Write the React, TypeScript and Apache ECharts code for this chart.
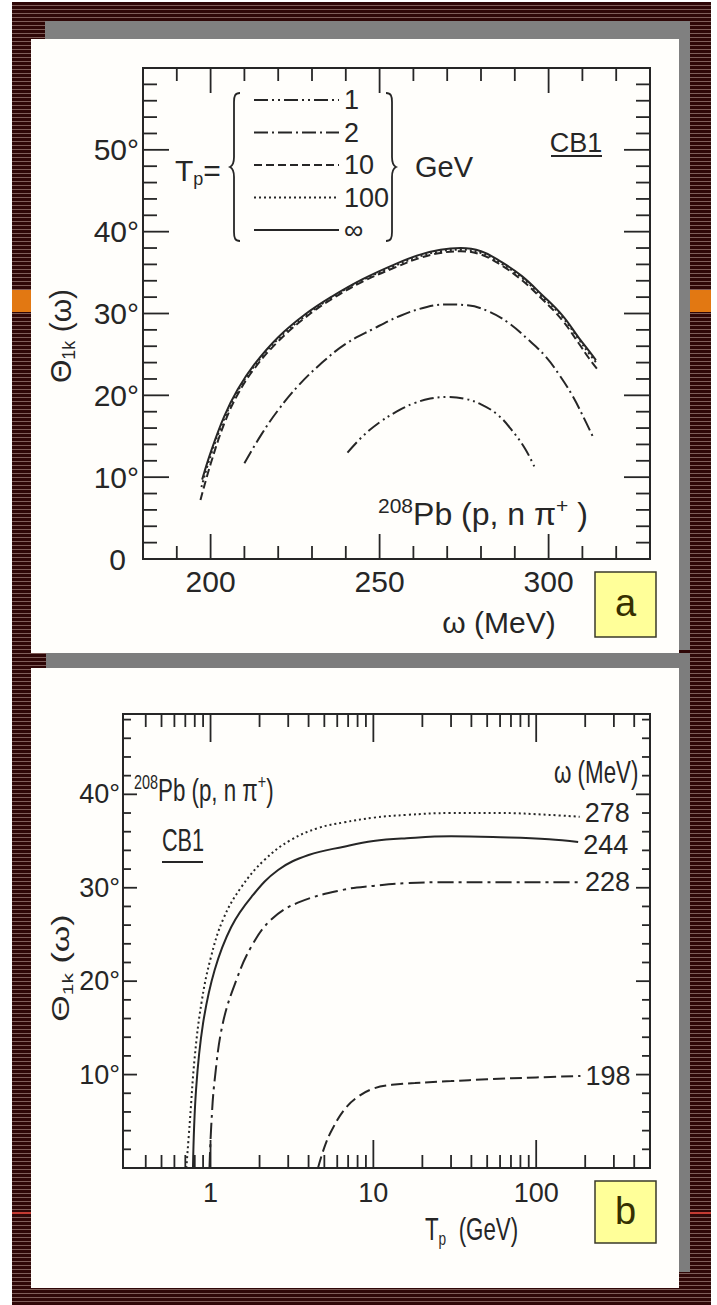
import React, { useEffect, useRef } from "react";
import * as echarts from "echarts";

// ---------------- Panel (a): theta_1k(omega) for several proton energies ----------------
const omegaTickValues = [190, 200, 210, 220, 230, 240, 250, 260, 270, 280, 290, 300, 310, 320];
const omegaTickLabels = [200, 250, 300];
const thetaTickValuesA = [2, 4, 6, 8, 10, 12, 14, 16, 18, 20, 22, 24, 26, 28, 30, 32, 34, 36, 38, 40, 42, 44, 46, 48, 50, 52, 54, 56, 58];
const thetaTickLabelsA = [0, 10, 20, 30, 40, 50];

const tpLegendNames = ["1", "2", "10", "100", "∞"];

const omegaTp1 = [240.5, 245, 250, 255, 260, 265, 270, 275, 280, 285, 289, 293, 296];
const thetaTp1 = [13.0, 15.0, 16.7, 18.0, 19.0, 19.6, 19.8, 19.6, 18.9, 17.6, 15.8, 13.5, 11.1];

const omegaTp2 = [210, 215, 220, 226, 233, 240, 248, 256, 264, 270, 276, 282, 288, 294, 299, 303, 307, 310, 313.5];
const thetaTp2 = [11.7, 15.2, 18.2, 21.2, 24.0, 26.3, 28.1, 29.7, 30.8, 31.1, 31.0, 30.3, 28.9, 26.8, 24.8, 22.6, 20.0, 17.6, 14.6];

const omegaTp10 = [197, 200, 204, 208, 213, 220, 228, 236, 245, 255, 262, 268, 274, 280, 286, 292, 298, 304, 309, 312, 315];
const thetaTp10 = [7.2, 11.6, 16.5, 20.1, 23.3, 26.6, 29.5, 31.8, 33.9, 35.7, 36.8, 37.4, 37.6, 37.2, 35.9, 34.1, 31.8, 29.2, 26.3, 24.5, 22.9];

const omegaTp100 = [197.3, 200, 204, 208, 213, 220, 228, 236, 245, 255, 262, 268, 274, 280, 286, 292, 298, 304, 309, 312, 314.3];
const thetaTp100 = [8.8, 12.6, 17.1, 20.5, 23.6, 26.9, 29.7, 32.0, 34.1, 35.9, 37.0, 37.6, 37.8, 37.4, 36.1, 34.4, 32.1, 29.6, 26.8, 25.1, 23.9];

const omegaTpInf = [197.5, 200, 204, 208, 213, 220, 228, 236, 245, 255, 262, 268, 274, 280, 286, 292, 298, 304, 309, 312, 314];
const thetaTpInf = [9.7, 13.0, 17.4, 20.7, 23.8, 27.1, 29.9, 32.1, 34.2, 36.1, 37.2, 37.8, 38.0, 37.6, 36.3, 34.6, 32.3, 29.8, 27.0, 25.4, 24.3];

// ---------------- Panel (b): theta_1k vs T_p for several omega ----------------
const tpTickValues = [0.4, 0.5, 0.6, 0.7, 0.8, 0.9, 1, 2, 3, 4, 5, 6, 7, 8, 9, 10, 20, 30, 40, 50, 60, 70, 80, 90, 100, 200, 300, 400];
const tpTickLabels = [1, 10, 100];
const thetaTickValuesB = [2, 4, 6, 8, 10, 12, 14, 16, 18, 20, 22, 24, 26, 28, 30, 32, 34, 36, 38, 40, 42, 44, 46, 48];
const thetaTickLabelsB = [10, 20, 30, 40];

const omegaCurveNames = ["278", "244", "228", "198"];

const tpW278 = [0.71, 0.745, 0.8, 0.88, 1.0, 1.2, 1.55, 2.15, 3.1, 4.6, 6.6, 10, 16, 30, 60, 120, 185];
const thetaW278 = [0, 4.8, 11.9, 17.7, 22.4, 26.7, 30.1, 33.0, 35.1, 36.4, 37.0, 37.5, 37.8, 38.0, 38.0, 37.8, 37.6];

const tpW244 = [0.78, 0.815, 0.9, 1.06, 1.34, 1.78, 2.6, 4.0, 6.6, 10, 16, 30, 60, 120, 181];
const thetaW244 = [0, 8.4, 15.5, 21.2, 25.8, 29.0, 31.9, 33.5, 34.4, 35.0, 35.3, 35.5, 35.4, 35.2, 34.9];

const tpW228 = [0.985, 1.01, 1.06, 1.19, 1.44, 1.78, 2.36, 3.44, 6.6, 10, 16, 30, 60, 120, 186];
const thetaW228 = [0, 4.5, 9.4, 15.5, 20.1, 23.7, 26.6, 28.4, 29.8, 30.2, 30.5, 30.6, 30.6, 30.6, 30.6];

const tpW198 = [4.57, 5.0, 5.5, 6.6, 8, 10, 13, 18, 30, 50, 100, 187];
const thetaW198 = [0, 2.2, 3.9, 6.2, 7.6, 8.5, 8.9, 9.1, 9.3, 9.5, 9.7, 9.85];

// ---------------- styling ----------------
const INK = "#262626";
const FONT_A = "'Liberation Sans', Arial, sans-serif";

const AX_A = { xMin: 180, xMax: 330, yMin: 0, yMax: 60 };
const AX_B = { xMin: 0.29, xMax: 500, yMin: 0, yMax: 48.6 };

const LBRACE = "M 10 0 C 5 0 4 3 4 9 L 4 64 C 4 70 2 73 0 74 C 2 75 4 78 4 84 L 4 139 C 4 145 5 148 10 148";
const RBRACE = "M 0 0 C 5 0 6 3 6 9 L 6 64 C 6 70 8 73 10 74 C 8 75 6 78 6 84 L 6 139 C 6 145 5 148 0 148";
echarts.graphic.registerShape("lbrace", echarts.graphic.extendPath(LBRACE, {}));
echarts.graphic.registerShape("rbrace", echarts.graphic.extendPath(RBRACE, {}));

const zip = (xs: number[], ys: number[]) => xs.map((x, i) => [x, ys[i]]);

function tickItems(xs: number[], ys: number[], ax: any, majX: (v: number) => boolean, majY: (v: number) => boolean) {
  const out: number[][] = [];
  xs.forEach((v) => {
    const m = majX(v) ? 1 : 0;
    out.push([v, ax.yMin, 0, m]);
    out.push([v, ax.yMax, 1, m]);
  });
  ys.forEach((v) => {
    const m = majY(v) ? 1 : 0;
    out.push([ax.xMin, v, 2, m]);
    out.push([ax.xMax, v, 3, m]);
  });
  return out;
}

const tickRenderer = (L: { xMaj: number; xMin: number; yMaj: number; yMin: number }) => (params: any, api: any) => {
  const p = api.coord([api.value(0), api.value(1)]);
  const side = api.value(2);
  const major = api.value(3) === 1;
  let x2 = p[0];
  let y2 = p[1];
  if (side === 0) y2 -= major ? L.xMaj : L.xMin;
  else if (side === 1) y2 += major ? L.xMaj : L.xMin;
  else if (side === 2) x2 += major ? L.yMaj : L.yMin;
  else x2 -= major ? L.yMaj : L.yMin;
  return {
    type: "line",
    shape: { x1: p[0], y1: p[1], x2, y2 },
    style: { stroke: INK, lineWidth: 1.8 },
  };
};

const isPow10 = (v: number) => Math.abs(Math.log10(v) - Math.round(Math.log10(v))) < 1e-6;

function textEl(x: number, y: number, text: string, extra: any = {}, styleExtra: any = {}) {
  return {
    type: "text",
    x,
    y,
    ...extra,
    style: {
      text,
      fill: INK,
      fontSize: 30,
      fontFamily: FONT_A,
      align: "left",
      textAlign: "left",
      verticalAlign: "middle",
      textVerticalAlign: "middle",
      ...styleExtra,
    },
  };
}

function buildOption() {
  const lineBase = (name: string, data: number[][], gi: number, type: any, extra: any = {}) => ({
    type: "line",
    name,
    xAxisIndex: gi,
    yAxisIndex: gi,
    data,
    symbol: "none",
    showSymbol: false,
    smooth: 0.4,
    silent: true,
    z: 4,
    lineStyle: { color: INK, width: 2, type, cap: "butt" },
    itemStyle: { color: INK },
    ...extra,
  });

  const endLabel = (txt: string, dy: number) => ({
    show: true,
    formatter: txt,
    fontSize: 27,
    lineHeight: 27,
    fontFamily: FONT_A,
    color: INK,
    distance: 5,
    offset: [0, dy],
  });

  const richA = {
    m: { fontSize: 30, fontFamily: FONT_A, lineHeight: 36 },
    s: { fontSize: 18, fontFamily: FONT_A, lineHeight: 18, verticalAlign: "bottom", textVerticalAlign: "bottom" },
    sup: { fontSize: 20, fontFamily: FONT_A, lineHeight: 20, verticalAlign: "top", textVerticalAlign: "top" },
  };
  const richPb = {
    m: { fontSize: 32, fontFamily: FONT_A, lineHeight: 38 },
    sup: { fontSize: 21, fontFamily: FONT_A, lineHeight: 21, verticalAlign: "top", textVerticalAlign: "top" },
  };
  const richB = {
    m: { fontSize: 31, fontFamily: FONT_A, lineHeight: 37 },
    s: { fontSize: 19, fontFamily: FONT_A, lineHeight: 19, verticalAlign: "bottom", textVerticalAlign: "bottom" },
    sup: { fontSize: 20, fontFamily: FONT_A, lineHeight: 20, verticalAlign: "top", textVerticalAlign: "top" },
  };

  return {
    animation: false,
    backgroundColor: "transparent",
    grid: [
      { left: 143, top: 68, width: 507, height: 491, show: true, borderColor: INK, borderWidth: 2, backgroundColor: "transparent" },
      { left: 123, top: 714, width: 527, height: 454, show: true, borderColor: INK, borderWidth: 2, backgroundColor: "transparent" },
    ],
    xAxis: [
      {
        type: "value",
        gridIndex: 0,
        min: AX_A.xMin,
        max: AX_A.xMax,
        interval: 10,
        axisLine: { show: false },
        axisTick: { show: false },
        splitLine: { show: false },
        axisLabel: {
          margin: 7,
          fontSize: 30,
          fontFamily: FONT_A,
          color: INK,
          showMinLabel: true,
          showMaxLabel: true,
          formatter: (v: number) => (omegaTickLabels.includes(v) ? String(v) : ""),
        },
      },
      {
        type: "log",
        gridIndex: 1,
        logBase: 10,
        min: AX_B.xMin,
        max: AX_B.xMax,
        axisLine: { show: false },
        axisTick: { show: false },
        splitLine: { show: false },
        axisLabel: {
          margin: 11,
          fontSize: 27,
          fontFamily: FONT_A,
          color: INK,
          formatter: (v: number) => {
            const m = tpTickLabels.find((t) => Math.abs(t - v) / t < 1e-6);
            return m !== undefined ? String(m) : "";
          },
        },
      },
    ],
    yAxis: [
      {
        type: "value",
        gridIndex: 0,
        min: AX_A.yMin,
        max: AX_A.yMax,
        interval: 10,
        axisLine: { show: false },
        axisTick: { show: false },
        splitLine: { show: false },
        axisLabel: {
          margin: 4,
          fontSize: 30,
          fontFamily: FONT_A,
          color: INK,
          formatter: (v: number) => (thetaTickLabelsA.includes(v) ? (v === 0 ? "{z|0}" : v + "°") : ""),
          rich: { z: { fontSize: 30, fontFamily: FONT_A, color: INK, padding: [0, 13, 0, 0] } },
        },
      },
      {
        type: "value",
        gridIndex: 1,
        min: AX_B.yMin,
        max: AX_B.yMax,
        interval: 10,
        axisLine: { show: false },
        axisTick: { show: false },
        splitLine: { show: false },
        axisLabel: {
          margin: 3,
          fontSize: 27,
          fontFamily: FONT_A,
          color: INK,
          formatter: (v: number) => (thetaTickLabelsB.includes(v) ? v + "°" : ""),
        },
      },
    ],
    legend: {
      data: tpLegendNames,
      orient: "vertical",
      left: 253,
      top: 85,
      padding: 0,
      itemWidth: 85,
      itemHeight: 12,
      itemGap: 2.5,
      selectedMode: false,
      itemStyle: { color: "rgba(0,0,0,0)", borderColor: "rgba(0,0,0,0)", borderWidth: 0, opacity: 0 },
      textStyle: { fontSize: 27, lineHeight: 30, fontFamily: FONT_A, color: INK },
    },
    series: [
      // ticks
      {
        type: "custom",
        xAxisIndex: 0,
        yAxisIndex: 0,
        silent: true,
        z: 3,
        clip: false,
        encode: { x: 0, y: 1 },
        data: tickItems(omegaTickValues, thetaTickValuesA, AX_A, (v) => v % 50 === 0, (v) => v % 10 === 0),
        renderItem: tickRenderer({ xMaj: 25, xMin: 13, yMaj: 26, yMin: 14 }),
      },
      {
        type: "custom",
        xAxisIndex: 1,
        yAxisIndex: 1,
        silent: true,
        z: 3,
        clip: false,
        encode: { x: 0, y: 1 },
        data: tickItems(tpTickValues, thetaTickValuesB, AX_B, isPow10, (v) => v % 10 === 0),
        renderItem: tickRenderer({ xMaj: 28, xMin: 13, yMaj: 14, yMin: 8 }),
      },
      // panel a curves
      lineBase(tpLegendNames[0], zip(omegaTp1, thetaTp1), 0, [14, 4, 2, 4, 2, 4]),
      lineBase(tpLegendNames[1], zip(omegaTp2, thetaTp2), 0, [14, 4, 2, 4]),
      lineBase(tpLegendNames[2], zip(omegaTp10, thetaTp10), 0, [8, 4]),
      lineBase(tpLegendNames[3], zip(omegaTp100, thetaTp100), 0, [2, 3]),
      lineBase(tpLegendNames[4], zip(omegaTpInf, thetaTpInf), 0, "solid"),
      // panel b curves
      lineBase(omegaCurveNames[0], zip(tpW278, thetaW278), 1, [2, 3], { endLabel: endLabel(omegaCurveNames[0], -4) }),
      lineBase(omegaCurveNames[1], zip(tpW244, thetaW244), 1, "solid", { endLabel: endLabel(omegaCurveNames[1], 3) }),
      lineBase(omegaCurveNames[2], zip(tpW228, thetaW228), 1, [16, 5, 3, 5], { endLabel: endLabel(omegaCurveNames[2], 0) }),
      lineBase(omegaCurveNames[3], zip(tpW198, thetaW198), 1, [12, 5], { endLabel: endLabel(omegaCurveNames[3], 0) }),
    ],
    graphic: [
      // ----- panel a -----
      textEl(60, 336, "{m|Θ}{s|1k}{m| (ω)}", { rotation: Math.PI / 2 }, { rich: richA, align: "center", textAlign: "center" }),
      textEl(499, 622, "ω (MeV)", {}, { align: "center", textAlign: "center" }),
      textEl(175, 170, "{m|T}{s|p}{m|=}", {}, { rich: richA }),
      { type: "lbrace", x: 230, y: 93, style: { stroke: INK, fill: "none", lineWidth: 1.8 } },
      { type: "rbrace", x: 386, y: 93, style: { stroke: INK, fill: "none", lineWidth: 1.8 } },
      textEl(415, 167, "GeV", {}, { fontSize: 29 }),
      textEl(576, 143, "CB1", {}, { fontSize: 27, align: "center", textAlign: "center" }),
      { type: "line", shape: { x1: 551, y1: 156, x2: 602, y2: 156 }, style: { stroke: INK, lineWidth: 2 } },
      textEl(378, 514, "{sup|208}{m|Pb (p, n π}{sup|+}{m| )}", {}, { rich: richPb }),
      { type: "rect", shape: { x: 595, y: 572, width: 61, height: 65 }, style: { fill: "#ffff99", stroke: "#3a3a2a", lineWidth: 1.5 } },
      textEl(625.5, 603, "a", {}, { fontSize: 38, fill: "#363000", align: "center", textAlign: "center" }),
      // ----- panel b -----
      textEl(60, 968, "{m|Θ}{s|1k}{m| (ω)}", { rotation: Math.PI / 2, scaleX: 1.1, scaleY: 0.8 }, { rich: richB, align: "center", textAlign: "center" }),
      textEl(425, 1230, "{m|T}{s|p}{m|  (GeV)}", { scaleX: 0.72 }, { rich: richB }),
      textEl(134, 791, "{sup|208}{m|Pb (p, n π}{sup|+}{m|)}", { scaleX: 0.72 }, { rich: richB }),
      textEl(183, 841, "CB1", { scaleX: 0.7 }, { fontSize: 31, align: "center", textAlign: "center" }),
      { type: "line", shape: { x1: 162, y1: 862, x2: 203, y2: 862 }, style: { stroke: INK, lineWidth: 2 } },
      textEl(554, 773, "ω (MeV)", { scaleX: 0.72 }, { fontSize: 31 }),
      { type: "rect", shape: { x: 595, y: 1181, width: 61, height: 62 }, style: { fill: "#ffff99", stroke: "#3a3a2a", lineWidth: 1.5 } },
      textEl(625.5, 1211, "b", {}, { fontSize: 38, fill: "#363000", align: "center", textAlign: "center" }),
    ],
  };
}

const STRIPES = "repeating-linear-gradient(to bottom, #2f0707 0px, #2f0707 3px, #7f5d59 3px, #7f5d59 4px)";

export default function App() {
  const ref = useRef<HTMLDivElement>(null);
  useEffect(() => {
    if (!ref.current) return;
    const chart = echarts.init(ref.current, undefined, { renderer: "svg" });
    chart.setOption(buildOption() as any);
    return () => chart.dispose();
  }, []);

  const abs = (l: number, t: number, w: number, h: number, bg: string): React.CSSProperties => ({
    position: "absolute",
    left: l,
    top: t,
    width: w,
    height: h,
    background: bg,
  });

  return (
    <div style={{ position: "absolute", left: 0, top: 0, width: 717, height: 1305, background: "#ffffff", overflow: "hidden" }}>
      <div style={abs(12, 2, 699, 1303, STRIPES)} />
      <div style={abs(12, 290, 699, 22, "#e27812")} />
      <div style={abs(12, 1212, 699, 2, "#c43a32")} />
      <div style={abs(45, 21, 645, 629, "#808080")} />
      <div style={abs(31, 39, 648, 614, "#fffefb")} />
      <div style={abs(46, 653, 644, 619, "#7d7d7d")} />
      <div style={abs(31, 668, 648, 620, "#fffefb")} />
      <div ref={ref} style={{ position: "absolute", left: 0, top: 0, width: 717, height: 1305 }} />
    </div>
  );
}
